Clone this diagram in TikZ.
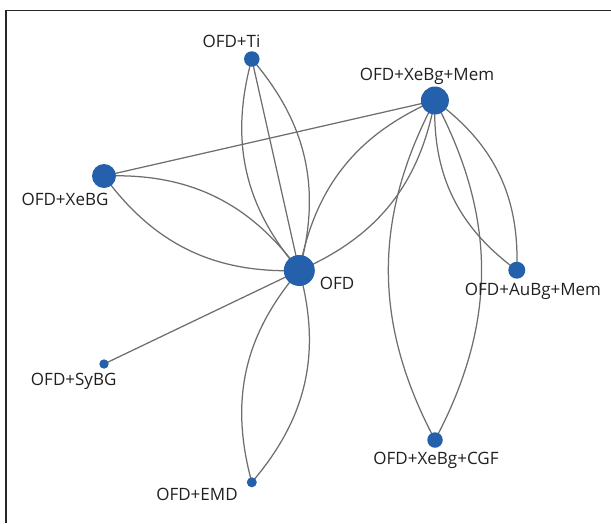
\documentclass[tikz,border=0pt]{standalone}
\usepackage{fontspec}
\setmainfont{Open Sans}
\usetikzlibrary{backgrounds}
\definecolor{nodeblue}{HTML}{2460AB}
\definecolor{edgegray}{HTML}{6E6E6E}
\definecolor{labeltext}{HTML}{231F20}
\tikzset{
  vertex/.style={circle, fill=nodeblue, draw=none, inner sep=0pt, minimum size=#1},
  vlabel/.style={anchor=base, inner sep=0pt, text=labeltext, font=\fontsize{17}{20}\selectfont},
  link/.style={draw=edgegray, line width=1.25pt},
  lensL/.style={link, bend left=28},
  lensR/.style={link, bend right=28},
}
\begin{document}
\begin{tikzpicture}[x=1pt, y=-1pt]
  \useasboundingbox (0,0) rectangle (611,523);
  % open frame: top and left rules only
  \draw[line width=1.4pt, color=black!85] (6,523) -- (6,10.5) -- (611,10.5);

  % treatments
  \node[vertex=15.5pt] (ti)   at (251.8, 59.0) {};
  \node[vertex=28pt]   (xbm)  at (434.9,100.5) {};
  \node[vertex=24pt]   (xbg)  at (104.0,176.0) {};
  \node[vertex=31pt]   (ofd)  at (299.3,270.5) {};
  \node[vertex=17pt]   (abm)  at (516.8,270.2) {};
  \node[vertex=9.4pt]  (sy)   at (104.0,364.0) {};
  \node[vertex=15.5pt] (cgf)  at (435.0,440.0) {};
  \node[vertex=10pt]   (emd)  at (251.8,482.3) {};

  % names
  \node[vlabel] (lti)  at (231.5, 47.5) {OFD+Ti};
  \node[vlabel] (lxbm) at (427.0, 80.0) {OFD+XeBg+Mem};
  \node[vlabel] (lxbg) at ( 65.0,205.0) {OFD+XeBG};
  \node[vlabel] (lofd) at (337.0,289.5) {OFD};
  \node[vlabel] (labm) at (533.0,295.0) {OFD+AuBg+Mem};
  \node[vlabel] (lsy)  at ( 73.7,385.5) {OFD+SyBG};
  \node[vlabel] (lcgf) at (436.0,464.0) {OFD+XeBg+CGF};
  \node[vlabel] (lemd) at (197.0,500.5) {OFD+EMD};

  % comparisons
  \begin{pgfonlayer}{background}
    \draw[link]  (ti.center) -- (ofd.center);
    \draw[lensL] (ti.center) to (ofd.center);
    \draw[lensR] (ti.center) to (ofd.center);

    \draw[link]  (xbg.center) -- (xbm.center);
    \draw[lensL] (xbg.center) to (ofd.center);
    \draw[lensR] (xbg.center) to (ofd.center);

    \draw[lensL] (xbm.center) to (ofd.center);
    \draw[lensR] (xbm.center) to (ofd.center);

    \draw[lensL] (xbm.center) to (abm.center);
    \draw[lensR] (xbm.center) to (abm.center);

    \draw[lensL] (xbm.center) to (cgf.center);
    \draw[lensR] (xbm.center) to (cgf.center);

    \draw[lensL] (ofd.center) to (emd.center);
    \draw[lensR] (ofd.center) to (emd.center);

    \draw[link]  (ofd.center) -- (sy.center);
  \end{pgfonlayer}
\end{tikzpicture}
\end{document}
